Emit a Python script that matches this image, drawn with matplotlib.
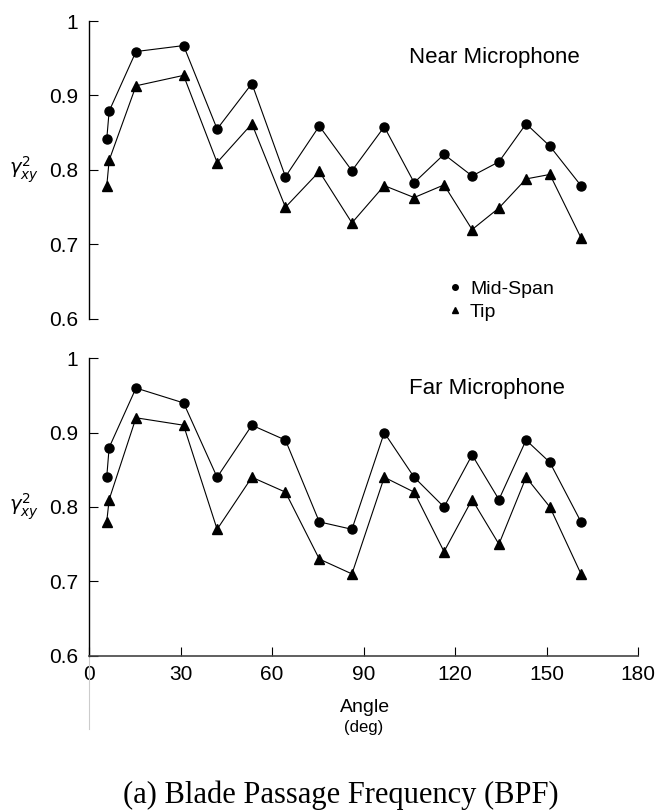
import numpy as np
from matplotlib import pyplot as plt
from matplotlib.lines import Line2D

plt.rcParams['font.family'] = ['Liberation Sans', 'DejaVu Sans']
plt.rcParams['mathtext.fontset'] = 'dejavusans'

# angle of each measurement (deg)
angle = [5.8, 6.6, 15.4, 31.0, 42.0, 53.4, 64.4, 75.5, 86.2, 96.8,
         106.6, 116.4, 125.6, 134.4, 143.3, 151.1, 161.3]

# near microphone coherence
near_mid = [0.841, 0.879, 0.959, 0.967, 0.855, 0.916, 0.791, 0.859, 0.799, 0.858,
            0.783, 0.821, 0.792, 0.811, 0.862, 0.832, 0.779]
near_tip = [0.778, 0.813, 0.913, 0.927, 0.810, 0.862, 0.750, 0.798, 0.729, 0.779,
            0.763, 0.780, 0.720, 0.749, 0.788, 0.794, 0.709]

# far microphone coherence
far_mid = [0.84, 0.88, 0.96, 0.94, 0.84, 0.91, 0.89, 0.78, 0.77, 0.90,
           0.84, 0.80, 0.87, 0.81, 0.89, 0.86, 0.78]
far_tip = [0.78, 0.81, 0.92, 0.91, 0.77, 0.84, 0.82, 0.73, 0.71, 0.84,
           0.82, 0.74, 0.81, 0.75, 0.84, 0.80, 0.71]

yticks = [0.6, 0.7, 0.8, 0.9, 1.0]
ytick_labels = ['0.6', '0.7', '0.8', '0.9', '1']
xticks = [0, 30, 60, 90, 120, 150, 180]

fig = plt.figure(figsize=(6.57, 8.11), dpi=100)
ax1 = fig.add_axes([0.1355, 0.6067, 0.8356, 0.3674])
ax2 = fig.add_axes([0.1355, 0.1915, 0.8356, 0.3667])

def style(ax):
    ax.set_xlim(0, 180)
    ax.set_ylim(0.6, 1.0)
    ax.set_yticks(yticks)
    ax.set_yticklabels(ytick_labels)
    ax.set_xticks(xticks)
    ax.spines['top'].set_visible(False)
    ax.spines['right'].set_visible(False)
    ax.spines['left'].set_linewidth(1.0)
    ax.spines['bottom'].set_linewidth(1.2)
    ax.spines['bottom'].set_color('#444444')
    ax.tick_params(direction='in', length=6.5, width=0.8, labelsize=15, pad=7)
    ax.tick_params(axis='y', pad=8)
    ax.set_ylabel(r'$\gamma^2_{xy}$', rotation=0, fontsize=14, va='center')
    ax.yaxis.set_label_coords(-0.118, 0.5)

for ax, mid, tip in [(ax1, near_mid, near_tip), (ax2, far_mid, far_tip)]:
    ax.plot(angle, mid, color='black', lw=0.8, marker='o', ms=6.5)
    ax.plot(angle, tip, color='black', lw=0.8, marker='^', ms=6.5)
    style(ax)

# top panel has no x axis
ax1.spines['bottom'].set_visible(False)
ax1.tick_params(axis='x', bottom=False, labelbottom=False)

ax1.text(0.738, 0.877, 'Near Microphone', transform=ax1.transAxes,
         ha='center', va='center', fontsize=16)
ax2.text(0.724, 0.899, 'Far Microphone', transform=ax2.transAxes,
         ha='center', va='center', fontsize=16)

handles = [Line2D([], [], ls='none', marker='o', color='black', ms=4),
           Line2D([], [], ls='none', marker='^', color='black', ms=4)]
ax1.legend(handles, ['Mid-Span', 'Tip'], loc='upper left',
           bbox_to_anchor=(0.6516, 0.13), frameon=False, fontsize=14,
           handlelength=0.8, handletextpad=0.4, borderpad=0, borderaxespad=0,
           labelspacing=0.3)

# thin grey line below the origin
ax2.axvline(0, ymin=-0.245, ymax=0, clip_on=False, color='#cccccc', lw=0.8)

ax2.text(0.5027, -0.175, 'Angle', transform=ax2.transAxes,
         ha='center', va='center', fontsize=14)
ax2.text(0.5, -0.24, '(deg)', transform=ax2.transAxes,
         ha='center', va='center', fontsize=12)

fig.text(341 / 657, 1 - 795 / 811, '(a) Blade Passage Frequency (BPF)',
         ha='center', va='center', fontsize=22, family='Liberation Serif')

plt.savefig('out.png', dpi=100)
